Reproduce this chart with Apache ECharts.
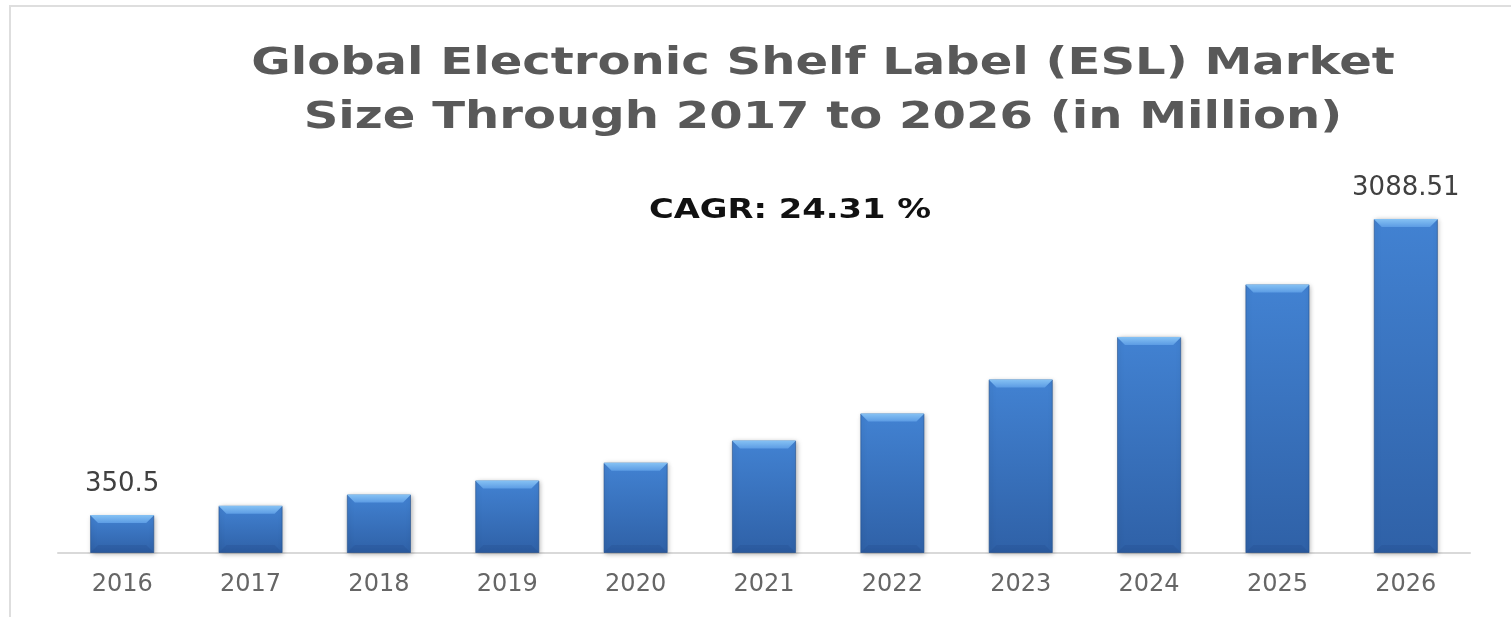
<!DOCTYPE html>
<html lang="en">
<head>
  <meta charset="utf-8">
  <title>ESL Market</title>
  <script src="https://cdn.jsdelivr.net/npm/echarts@6/dist/echarts.min.js"></script>
  <style>
    html, body { margin: 0; padding: 0; background: #fff; }
    #container { width: 1511px; height: 617px; }
  </style>
</head>
<body>
<div id="container"></div>
<script>
  // data
  var years = ['2016', '2017', '2018', '2019', '2020', '2021', '2022', '2023', '2024', '2025', '2026'];
  var marketSize = [350.5, 436, 540, 670, 835, 1040, 1290, 1605, 1998, 2483, 3088.51];
  var labelled = ['2016', '2026'];  // only these bars carry a value label
  var titleLines = ['Global Electronic Shelf Label (ESL) Market', 'Size Through 2017 to 2026 (in Million)'];
  var cagrText = 'CAGR: 24.31 %';

  var myChart = echarts.init(document.getElementById('container'));

  var barData = marketSize.map(function (v, i) {
    var show = labelled.indexOf(years[i]) >= 0;
    return { value: v, label: { show: show } };
  });

  // bevel caps on top and bottom of each bar
  function renderBevel(params, api) {
    var i = api.value(0);
    var top = api.coord([i, api.value(1)]);
    var base = api.coord([i, 0]);
    var w = api.size([1, 0])[0] * 0.5;
    var x0 = top[0] - w / 2, x1 = top[0] + w / 2;
    var b = 8;
    return {
      type: 'group',
      children: [
        {
          type: 'polygon',
          shape: { points: [[x0, top[1]], [x1, top[1]], [x1 - b, top[1] + b], [x0 + b, top[1] + b]] },
          style: {
            fill: new echarts.graphic.LinearGradient(0, 0, 0, 1, [
              { offset: 0, color: '#86c2f4' },
              { offset: 1, color: '#5c9ce4' }
            ])
          }
        },
        {
          type: 'polygon',
          shape: { points: [[x0, base[1]], [x1, base[1]], [x1 - b, base[1] - b], [x0 + b, base[1] - b]] },
          style: { fill: 'rgba(30,70,130,0.22)' }
        }
      ]
    };
  }

  var option = {
    animation: false,
    grid: { left: 58, right: 41, top: 174.5, bottom: 64 },
    xAxis: {
      type: 'category',
      data: years,
      axisLine: { lineStyle: { color: '#d9d9d9', width: 2 } },
      axisTick: { show: false },
      axisLabel: { color: '#666666', fontSize: 24, fontFamily: 'DejaVu Sans', margin: 20 }
    },
    yAxis: {
      type: 'value',
      min: 0,
      max: 3500,
      show: false,
      splitLine: { show: false }
    },
    graphic: [
      {
        type: 'rect',
        shape: { x: 10, y: 6, width: 1600, height: 700 },
        style: { fill: 'none', stroke: '#dedede', lineWidth: 2 },
        silent: true
      },
      {
        type: 'text',
        x: 823,
        y: 37,
        scaleX: 1.3,
        style: {
          text: titleLines.join('\n'),
          fill: '#595959',
          font: 'bold 37px "DejaVu Sans"',
          lineHeight: 54,
          align: 'center',
          verticalAlign: 'top'
        }
      },
      {
        type: 'text',
        x: 790,
        y: 211,
        scaleX: 1.25,
        style: {
          text: cagrText,
          fill: '#111111',
          font: 'bold 27px "DejaVu Sans"',
          align: 'center',
          verticalAlign: 'middle'
        }
      }
    ],
    series: [
      {
        type: 'bar',
        data: barData,
        barWidth: '50%',
        itemStyle: {
          color: new echarts.graphic.LinearGradient(0, 0, 0, 1, [
            { offset: 0, color: '#4282d2' },
            { offset: 1, color: '#2f61a7' }
          ]),
          borderColor: 'rgba(35,80,140,0.6)',
          borderWidth: 1,
          shadowBlur: 5,
          shadowColor: 'rgba(0,0,0,0.3)',
          shadowOffsetX: 1,
          shadowOffsetY: 1
        },
        label: {
          position: 'top',
          distance: 18,
          color: '#404040',
          fontSize: 26,
          fontFamily: 'DejaVu Sans'
        }
      },
      {
        type: 'custom',
        renderItem: renderBevel,
        data: marketSize.map(function (v, i) { return [i, v]; }),
        silent: true,
        z: 3
      }
    ]
  };

  myChart.setOption(option);
</script>
</body>
</html>
